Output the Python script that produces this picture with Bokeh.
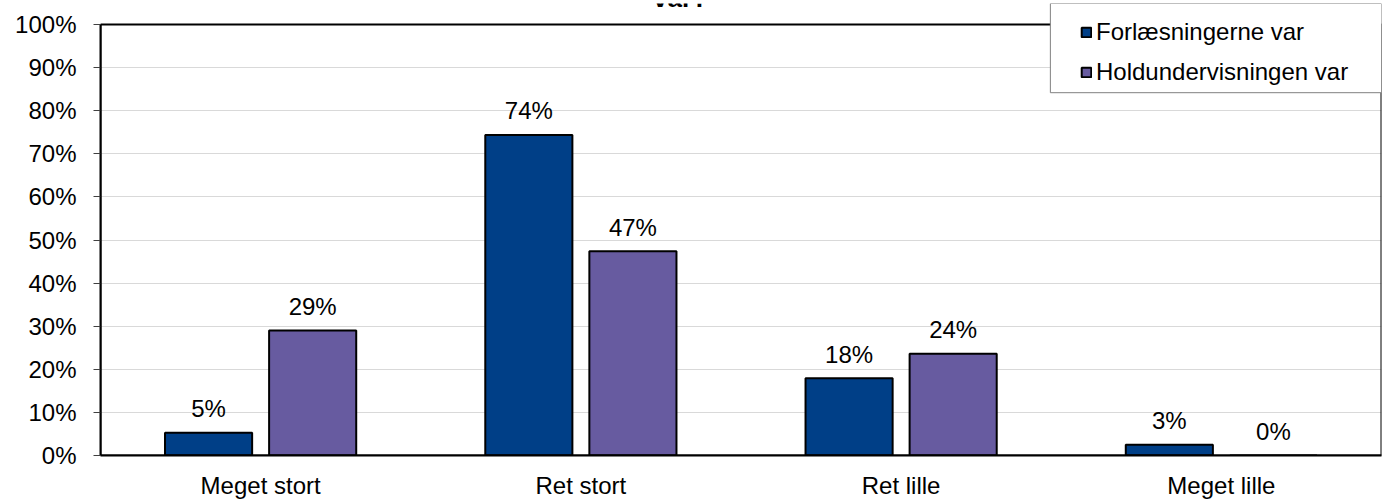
from bokeh.plotting import figure
from bokeh.models import (FactorRange, Range1d, FixedTicker, Legend, LegendItem, Label,
                          ColumnDataSource, BoxAnnotation)
from bokeh.transform import dodge
from bokeh.core.properties import value
from bokeh.embed import file_html
from bokeh.resources import INLINE

categories = ["Meget stort", "Ret stort", "Ret lille", "Meget lille"]
forl = [5.3, 74.4, 17.9, 2.5]
hold = [29.0, 47.4, 23.6, 0.0]
forl_labels = ["5%", "74%", "18%", "3%"]
hold_labels = ["29%", "47%", "24%", "0%"]
series_names = ["Forlæsningerne var", "Holdundervisningen var"]
y_ticks = list(range(0, 101, 10))
title_text = "var?"

FONT = "Liberation Sans"
FS = "24px"
C1 = "#003F87"
C2 = "#675BA0"

src = ColumnDataSource(dict(cat=categories, f=forl, h=hold, fl=forl_labels, hl=hold_labels))

p = figure(x_range=FactorRange(*categories, range_padding=0), y_range=Range1d(0, 104.9),
           width=1397, height=509, output_backend="svg", toolbar_location=None,
           min_border_left=108, min_border_right=8, min_border_top=11, min_border_bottom=46)
p.margin = (-8, -8, -8, -8)

p.outline_line_color = None
p.xgrid.grid_line_color = None
p.ygrid.grid_line_color = "#D9D9D9"
p.ygrid.grid_line_width = 1
p.ygrid.ticker = FixedTicker(ticks=y_ticks)

r1 = p.vbar(x=dodge("cat", -0.1625, range=p.x_range), top="f", width=0.272, source=src,
            fill_color=C1, line_color="black", line_width=2)
r2 = p.vbar(x=dodge("cat", 0.1625, range=p.x_range), top="h", width=0.272, source=src,
            fill_color=C2, line_color="black", line_width=2)

p.text(x=dodge("cat", -0.1625, range=p.x_range), y="f", text="fl", source=src, y_offset=-24,
       text_align="center", text_baseline="alphabetic", text_font=value(FONT),
       text_font_size=FS, text_color="black")
p.text(x=dodge("cat", 0.1625, range=p.x_range), y="h", text="hl", source=src, y_offset=-24,
       text_align="center", text_baseline="alphabetic", text_font=value(FONT),
       text_font_size=FS, text_color="black")

# plot-area border (0..100%)
p.add_layout(BoxAnnotation(bottom=0, top=100, fill_alpha=0, line_color="black", line_width=2,
                           line_alpha=1))

p.yaxis.ticker = FixedTicker(ticks=y_ticks)
p.yaxis.bounds = (0, 100)
p.yaxis.major_label_overrides = {t: f"{t}%" for t in y_ticks}
p.yaxis.major_tick_out = 7
p.yaxis.major_tick_in = 0
p.yaxis.minor_tick_line_color = None
p.yaxis.major_tick_line_color = "#404040"
p.yaxis.axis_line_color = "black"
p.yaxis.axis_line_width = 2
p.yaxis.major_label_standoff = 17
p.yaxis.major_label_text_font = FONT
p.yaxis.major_label_text_font_size = FS
p.yaxis.major_label_text_color = "black"

p.xaxis.major_tick_line_color = None
p.xaxis.minor_tick_line_color = None
p.xaxis.axis_line_color = "black"
p.xaxis.axis_line_width = 2
p.xaxis.major_label_standoff = 10
p.xaxis.major_label_text_font = FONT
p.xaxis.major_label_text_font_size = FS
p.xaxis.major_label_text_color = "black"

# legend box
p.add_layout(BoxAnnotation(left=2.966, bottom=84.2, fill_color="white", fill_alpha=1,
                           line_color="#808080", line_width=1, line_alpha=1))

legend = Legend(items=[LegendItem(label=series_names[0], renderers=[r1]),
                       LegendItem(label=series_names[1], renderers=[r2])],
                location=(980, 369), orientation="vertical")
legend.label_text_font = FONT
legend.label_text_font_size = FS
legend.label_text_color = "black"
legend.glyph_width = 12
legend.glyph_height = 12
legend.label_standoff = 4
legend.label_height = 28
legend.spacing = 12
legend.padding = 0
legend.margin = 0
legend.border_line_color = None
legend.background_fill_alpha = 0
p.add_layout(legend, "center")

title = Label(x=1.811, y=106.1, text=title_text, text_font=FONT, text_font_size="26px",
              text_font_style="bold", text_align="center", text_baseline="alphabetic",
              text_color="black")
p.add_layout(title)

open("out.html", "w").write(file_html(p, INLINE))
